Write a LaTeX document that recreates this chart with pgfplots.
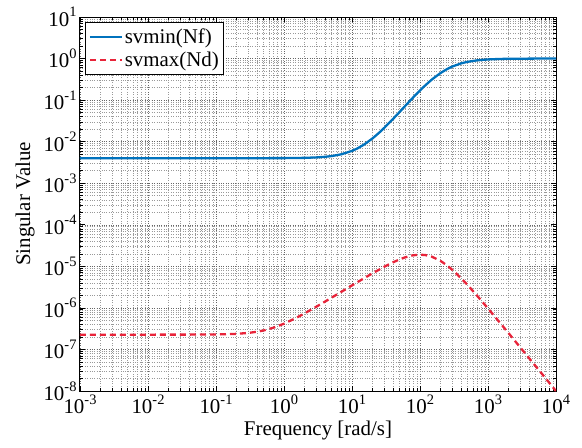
\documentclass[border=0pt]{standalone}
\usepackage{fontspec}
\setmainfont{Liberation Serif}
\usepackage{pgfplots}
\pgfplotsset{compat=1.18}
\definecolor{mblue}{RGB}{0,114,189}
\definecolor{mred}{RGB}{232,36,58}
\newcommand{\E}[1]{10\raisebox{0.45em}{\fontsize{14.5}{14.5}\selectfont #1}}
\begin{document}
\begin{tikzpicture}
\begin{axis}[
  scale only axis,
  width=476bp, height=374bp,
  xmode=log, ymode=log,
  xmin=1e-3, xmax=1e4, ymin=1e-8, ymax=1e1,
  xtick={1e-3,1e-2,1e-1,1e0,1e1,1e2,1e3,1e4},
  xticklabels={\E{-3},\E{-2},\E{-1},\E{0},\E{1},\E{2},\E{3},\E{4}},
  ytick={1e-8,1e-7,1e-6,1e-5,1e-4,1e-3,1e-2,1e-1,1e0,1e1},
  yticklabels={\E{-8},\E{-7},\E{-6},\E{-5},\E{-4},\E{-3},\E{-2},\E{-1},\E{0},\E{1}},
  grid=both,
  major grid style={dotted, black!60, line width=0.5pt},
  minor grid style={dotted, black!40, line width=0.5pt},
  axis line style={line width=1pt},
  every tick/.style={black, line width=0.6pt},
  major tick length=5bp, minor tick length=3bp,
  tick label style={font=\fontsize{21}{24}\selectfont},
  label style={font=\fontsize{21}{24}\selectfont},
  xlabel={Frequency [rad/s]},
  ylabel={Singular Value},
  ylabel style={yshift=2bp},
  legend style={font=\fontsize{21}{24}\selectfont, at={(0.011,0.987)}, anchor=north west,
    draw=black, line width=1pt, inner xsep=3bp, inner ysep=3bp,
    nodes={inner ysep=3.5bp}},
  legend cell align=left,
  legend image code/.code={\draw[#1] (0cm,0cm) -- (1.12cm,0cm);},
]
\addplot[mblue, line width=2.3pt] coordinates {
(0.001,0.003998) (0.01,0.003998) (0.1,0.003998) (1,0.004018) (2,0.004078) (3,0.004178)
(4,0.004318) (5,0.004498) (7,0.004978) (10,0.005997) (12,0.006873) (15,0.008484)
(20,0.011945) (25,0.016360) (30,0.02170) (40,0.035045) (50,0.05167) (60,0.071233)
(70,0.09334) (80,0.11756) (100,0.17075) (120,0.22765) (150,0.31426) (200,0.448)
(250,0.55867) (300,0.64553) (400,0.76384) (500,0.83475) (700,0.90823) (1000,0.95282)
(1500,0.97846) (2000,0.98777) (5000,0.99802) (10000,0.99951)
};
\addlegendentry{svmin(Nf)}
\addplot[mred, line width=2.3pt, dash pattern=on 6bp off 4bp] coordinates {
(0.001,2.270e-7) (0.01,2.270e-7) (0.05,2.277e-7) (0.1,2.297e-7) (0.15,2.330e-7)
(0.2,2.375e-7) (0.3,2.500e-7) (0.4,2.665e-7) (0.5,2.864e-7) (0.7,3.336e-7)
(1,4.166e-7) (1.5,5.709e-7) (2,7.345e-7) (3,1.071e-6) (4,1.4136e-6) (5,1.758e-6)
(7,2.4463e-6) (10,3.474e-6) (15,5.157e-6) (20,6.786e-6) (30,9.816e-6) (40,1.2460e-5)
(50,1.4657e-5) (60,1.6378e-5) (70,1.764e-5) (80,1.8478e-5) (100,1.909e-5)
(120,1.8674e-5) (150,1.702e-5) (200,1.355e-5) (250,1.0519e-5) (300,8.205e-6)
(400,5.2307e-6) (500,3.561e-6) (700,1.921e-6) (1000,9.705e-7) (1500,4.3854e-7)
(2000,2.481e-7) (3000,1.1074e-7) (5000,3.995e-8) (7000,2.0396e-8) (10000,9.997e-9)
};
\addlegendentry{svmax(Nd)}
\end{axis}
\pgfresetboundingbox
\path (-80bp,-57bp) rectangle (502bp,391bp);
\end{tikzpicture}
\end{document}
